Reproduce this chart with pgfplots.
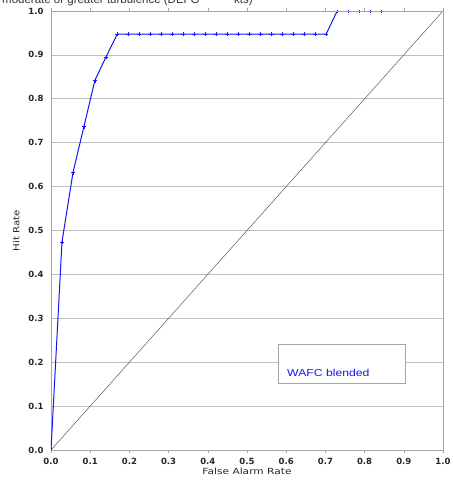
\documentclass[border=0pt]{standalone}
\usepackage{graphicx}
\usepackage{pgfplots}
\pgfplotsset{compat=1.18}
\usepackage{fontspec}
\setmainfont{Liberation Sans}
\newfontfamily\dejavu{DejaVu Sans}
\usetikzlibrary{calc}
\definecolor{gridgray}{RGB}{190,190,190}
\definecolor{axgray}{RGB}{165,165,165}
\definecolor{lineblue}{RGB}{20,20,255}
\begin{document}
\begin{tikzpicture}
\begin{axis}[
  scale only axis,
  width=392pt, height=439pt,
  xmin=0, xmax=1, ymin=0, ymax=1,
  xtick={0,0.1,...,1.0}, ytick={0,0.1,...,1.0},
  /pgf/number format/fixed,
  /pgf/number format/fixed zerofill,
  /pgf/number format/precision=1,
  /pgf/number format/assume math mode=true,
  ticklabel style={font=\dejavu\fontsize{8.5}{9}\selectfont\bfseries, text=black!85},
  xtick pos=both, ytick pos=left,
  major tick length=3pt,
  tick align=outside,
  xtick style={axgray, line width=0.5pt},
  ytick style={draw=none},
  axis line style={axgray, line width=0.6pt},
  ymajorgrids, grid style={gridgray, line width=0.6pt},
  xlabel={\scalebox{1.25}[1]{False Alarm Rate}}, ylabel={\scalebox{1.2}[1]{Hit Rate}},
  label style={font=\dejavu\fontsize{8.5}{9}\selectfont, text=black!85},
  xlabel style={yshift=4pt},
  ylabel style={yshift=2pt},
  yticklabel style={xshift=-1pt},
  xticklabel style={yshift=-2pt},
  clip marker paths=true,
]
\addplot[black!65, line width=0.5pt] coordinates {(0,0) (1,1)};
\addplot[lineblue, line width=1pt, mark=+, mark size=2.2pt, mark options={line width=0.6pt}] coordinates {
 (0,0) (0.028,0.4737) (0.056,0.6316) (0.084,0.7368) (0.112,0.8421) (0.140,0.8947)
 (0.169,0.9474) (0.197,0.9474) (0.225,0.9474) (0.253,0.9474) (0.281,0.9474)
 (0.309,0.9474) (0.337,0.9474) (0.365,0.9474) (0.393,0.9474) (0.421,0.9474)
 (0.449,0.9474) (0.477,0.9474) (0.506,0.9474) (0.534,0.9474) (0.562,0.9474)
 (0.590,0.9474) (0.618,0.9474) (0.646,0.9474) (0.674,0.9474) (0.702,0.9474)
 (0.730,1.0)
};
\addplot[lineblue, only marks, mark=+, mark size=2.2pt, mark options={line width=0.6pt}] coordinates {
 (0.758,1.0) (0.786,1.0) (0.814,1.0) (0.843,1.0)
};
\draw[axgray, line width=0.6pt] (rel axis cs:0,1) -- (rel axis cs:1,1);
\draw[axgray, line width=0.8pt, fill=white] (axis cs:0.580,0.152) rectangle (axis cs:0.904,0.2415);
\node[anchor=base west, text=lineblue, font=\fontsize{10}{11}\selectfont, inner sep=0pt] at (axis cs:0.602,0.168) {\scalebox{1.22}[1]{WAFC blended}};
\end{axis}
\node[anchor=base west, font=\fontsize{11.5}{12}\selectfont, text=black!80, inner sep=0pt] at ($(current axis.north west)+(-49pt,7.5pt)$) {moderate or greater turbulence (DEFG \hspace{28pt} kts)};
\pgfresetboundingbox
\path[use as bounding box] ($(current axis.south west)+(-51pt,-31pt)$) rectangle ($(current axis.north east)+(9pt,11pt)$);
\end{tikzpicture}
\end{document}
